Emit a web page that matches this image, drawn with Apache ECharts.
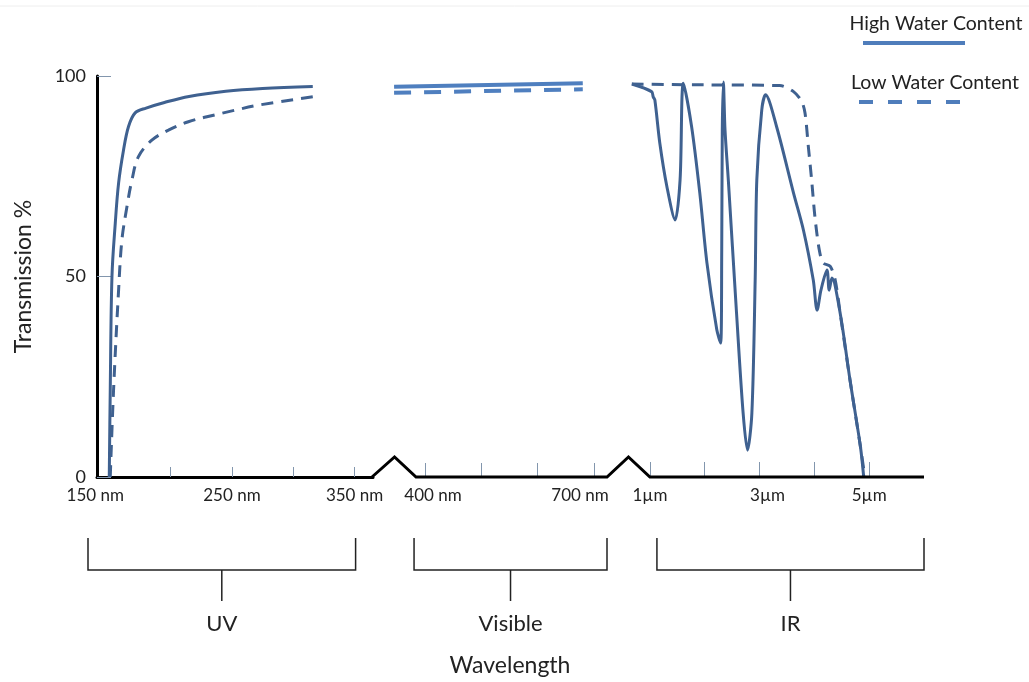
<!DOCTYPE html>
<html>
<head>
<meta charset="utf-8">
<script src="https://cdn.jsdelivr.net/npm/echarts@6/dist/echarts.min.js"></script>
<style>html,body{margin:0;padding:0;background:#fff}#c{width:1029px;height:682px}</style>
</head>
<body>
<div id="c"></div>
<script>
// ---- Data ----
const seriesNames = ['High Water Content', 'Low Water Content'];
const bandNames = ['UV', 'Visible', 'IR'];
const yTicks = [0, 50, 100];
// UV segment, wavelength in nm, transmission in %
const uvTicks = [200, 250, 300, 350];
const uvLabels = [150, 250, 350];
const uvHigh = [[150,0],[150.8,21.7],[152.2,50],[154.9,63.3],[157.6,73.3],[161.6,81.5],[165.7,87.4],[171.1,90.8],[180,92.0],[195,93.4],[215,94.9],[245,96.2],[275,96.9],[315.9,97.4]];
const uvLow = [[150.8,0],[153.5,21.7],[157.6,46.6],[160.3,59.1],[164.4,67.4],[168.5,74.1],[173.8,79.9],[184.7,84.0],[198.2,86.5],[214.5,88.6],[236.2,90.3],[250,91.3],[272.8,92.8],[315.9,94.8]];
// Visible segment, nm
const visTicks = [400, 500, 600, 700];
const visLabels = [400, 700];
const visHigh = [[345,97.3],[680,98.2]];
const visLow = [[345,95.8],[680,96.7]];
// IR segment, µm
const irTicks = [1, 2, 3, 4, 5];
const irLabels = [1, 3, 5];
const irHigh = [[0.67,98.0],[1.03,96.1],[1.06,94.8],[1.09,94.0],[1.18,83.3],[1.31,72.4],[1.46,64.1],[1.55,74.1],[1.61,98.2],[1.76,87.4],[1.91,70.8],[2.04,53.4],[2.22,36.7],[2.29,33.4],[2.31,56.6],[2.32,86.5],[2.34,98.5],[2.37,86.5],[2.43,74.1],[2.58,40.9],[2.70,16.0],[2.78,6.7],[2.86,16.0],[2.92,49.1],[2.95,74.1],[3.04,91.5],[3.11,95.3],[3.31,87.4],[3.62,70.8],[3.80,61.6],[3.98,49.1],[4.05,41.6],[4.12,46.6],[4.23,51.6],[4.27,46.6],[4.32,49.6],[4.47,40.9],[4.65,24.2],[4.84,7.6],[4.90,0]];
const irLow = [[0.67,98.0],[1.91,97.8],[3.37,97.6],[3.62,96.1],[3.77,93.6],[3.83,90.7],[3.89,82.4],[3.95,74.1],[4.01,64.9],[4.09,56.6],[4.16,53.4],[4.29,52.5],[4.38,49.1],[4.47,40.9],[4.65,24.2],[4.84,7.6],[4.92,0]];

// ---- Styles ----
const FONT = 'Lato, "Open Sans", sans-serif';
const curveColor = '#3f6190';
const visColor = '#4f7fbf';
const legendColor = '#4f7dbb';
const tickColor = '#8296ad';
const LBL = 17;

function xAxisDef(grid, min, max, ticks, labels, unit, tickLen, pad, showLine) {
  return {
    type: 'value', gridIndex: grid, min: min, max: max,
    splitLine: { show: false },
    axisLine: { show: showLine, onZero: false, lineStyle: { color: '#000', width: 3 } },
    axisTick: { show: true, inside: true, length: tickLen, customValues: ticks, lineStyle: { color: tickColor, width: 1 } },
    axisLabel: {
      show: true, customValues: labels, margin: 10, color: '#222', fontSize: LBL, fontFamily: FONT,
      formatter: function (v) {
        const p = pad[v] || 0;
        const t = v + unit;
        if (p < 0) return '{r|' + t + '}';
        if (p > 0) return '{l|' + t + '}';
        return t;
      },
      rich: {
        r: { fontSize: LBL, fontFamily: FONT, color: '#222', padding: [0, 28, 0, 0] },
        l: { fontSize: LBL, fontFamily: FONT, color: '#222', padding: [0, 0, 0, 16] }
      }
    }
  };
}

const chart = echarts.init(document.getElementById('c'), null, { renderer: 'canvas' });

const option = {
  backgroundColor: '#ffffff',
  animation: false,
  grid: [
    { left: 97, top: 76, width: 276, height: 401 },
    { left: 380, top: 76, width: 227, height: 401 },
    { left: 628, top: 76, width: 296, height: 401 }
  ],
  xAxis: [
    xAxisDef(0, 140, 365, uvTicks, uvLabels, ' nm', 10, { 150: -1 }, true),
    xAxisDef(1, 320, 723, visTicks, visLabels, ' nm', 14, { 400: 1, 700: -1 }, false),
    xAxisDef(2, 0.6, 6, irTicks, irLabels, 'µm', 15, { 3: 1 }, false)
  ],
  yAxis: [
    {
      type: 'value', gridIndex: 0, min: 0, max: 100, interval: 50,
      name: 'Transmission %', nameLocation: 'middle', nameGap: 62,
      nameTextStyle: { fontSize: 23, fontFamily: FONT, color: '#222' },
      splitLine: { show: false },
      axisLine: { show: true, lineStyle: { color: '#000', width: 3 } },
      axisTick: { show: true, inside: true, length: 14, lineStyle: { color: tickColor, width: 1 } },
      axisLabel: { margin: 11, fontSize: 18, fontFamily: FONT, color: '#222', customValues: yTicks }
    },
    { type: 'value', gridIndex: 1, min: 0, max: 100, show: false },
    { type: 'value', gridIndex: 2, min: 0, max: 100, show: false }
  ],
  series: [
    { name: seriesNames[0], type: 'line', xAxisIndex: 0, yAxisIndex: 0, data: uvHigh, smooth: 0.35, symbol: 'none',
      lineStyle: { color: curveColor, width: 3 } },
    { name: seriesNames[1], type: 'line', xAxisIndex: 0, yAxisIndex: 0, data: uvLow, smooth: 0.35, symbol: 'none',
      lineStyle: { color: curveColor, width: 3, type: [12, 8] } },
    { name: seriesNames[0], type: 'line', xAxisIndex: 1, yAxisIndex: 1, data: visHigh, symbol: 'none',
      lineStyle: { color: visColor, width: 4 } },
    { name: seriesNames[1], type: 'line', xAxisIndex: 1, yAxisIndex: 1, data: visLow, symbol: 'none',
      lineStyle: { color: visColor, width: 4, type: [17, 13] } },
    { name: seriesNames[0], type: 'line', xAxisIndex: 2, yAxisIndex: 2, data: irHigh, smooth: 0.3, symbol: 'none',
      lineStyle: { color: curveColor, width: 3 } },
    { name: seriesNames[1], type: 'line', xAxisIndex: 2, yAxisIndex: 2, data: irLow, smooth: 0.3, symbol: 'none',
      lineStyle: { color: curveColor, width: 3, type: [12, 8] } }
  ]
};
chart.setOption(option);

// ---- Decorations: axis breaks, band brackets, legend ----
const px = (ax, v) => chart.convertToPixel({ xAxisIndex: ax }, v);
const y0 = chart.convertToPixel({ yAxisIndex: 0 }, 0);
const uvEnd = px(0, 365), visStart = px(1, 384), visEnd = px(1, 723), irStart = px(2, 1), irEnd = px(2, 6);
const brTop = 538, brBar = 570, brStem = 601, bandY = 624;
const brackets = [
  [88, px(0, 350) + 1],
  [visStart - 2, visEnd],
  [irStart + 7, irEnd]
];
const g = [];
g.push({ type: 'line', shape: { x1: 0, y1: 6, x2: 1029, y2: 6 }, style: { stroke: '#eeeeee', lineWidth: 1 }, silent: true });
g.push({ type: 'polyline', z: 10, shape: { points: [
  [uvEnd - 1, y0], [(uvEnd + visStart) / 2, y0 - 20], [visStart, y0], [visEnd, y0],
  [(visEnd + irStart) / 2, y0 - 20], [irStart, y0], [irEnd, y0]] },
  style: { stroke: '#000', lineWidth: 3, fill: null, lineJoin: 'miter' } });
brackets.forEach(function (b, i) {
  const mid = (b[0] + b[1]) / 2;
  g.push({ type: 'polyline', shape: { points: [[b[0], brTop], [b[0], brBar], [b[1], brBar], [b[1], brTop]] }, style: { stroke: '#222', lineWidth: 1.5, fill: null } });
  g.push({ type: 'line', shape: { x1: mid, y1: brBar, x2: mid, y2: brStem }, style: { stroke: '#222', lineWidth: 1.5 } });
  g.push({ type: 'text', style: { text: bandNames[i], x: mid, y: bandY, align: 'center', verticalAlign: 'middle', font: '22px ' + FONT, fill: '#222' } });
});
g.push({ type: 'text', style: { text: 'Wavelength', x: 510, y: 666, align: 'center', verticalAlign: 'middle', font: '23px ' + FONT, fill: '#222' } });
// legend
g.push({ type: 'text', style: { text: seriesNames[0], x: 936, y: 24, align: 'center', verticalAlign: 'middle', font: '19.5px ' + FONT, fill: '#222' } });
g.push({ type: 'line', shape: { x1: 863, y1: 43, x2: 965, y2: 43 }, style: { stroke: legendColor, lineWidth: 4 } });
g.push({ type: 'text', style: { text: seriesNames[1], x: 935, y: 83, align: 'center', verticalAlign: 'middle', font: '19.5px ' + FONT, fill: '#222' } });
g.push({ type: 'line', shape: { x1: 859, y1: 102, x2: 961, y2: 102 }, style: { stroke: legendColor, lineWidth: 4, lineDash: [14, 15] } });
chart.setOption({ graphic: { elements: g } });
</script>
</body>
</html>
